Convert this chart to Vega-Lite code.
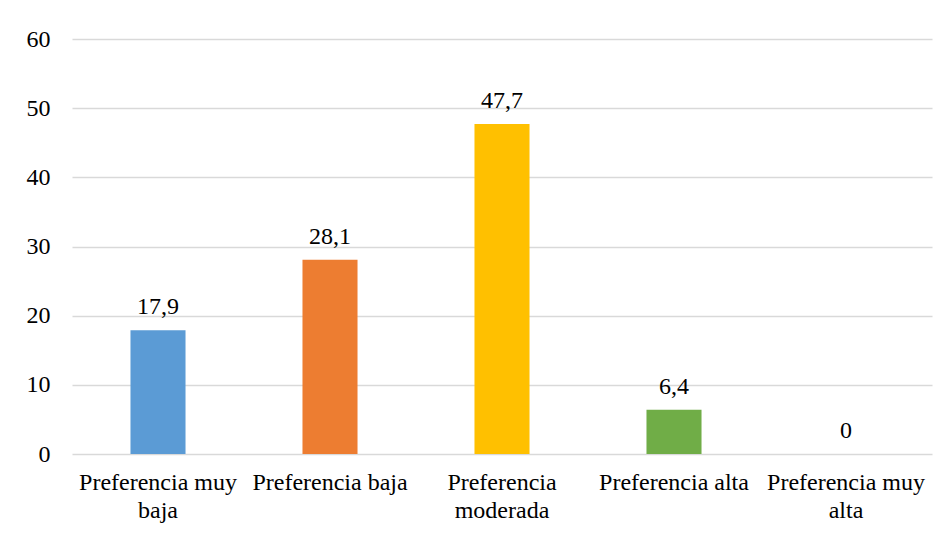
{
  "$schema": "https://vega.github.io/schema/vega-lite/v6.json",
  "width": 860,
  "height": 415,
  "autosize": {"type": "none"},
  "padding": {"left": 72, "top": 39, "right": 15, "bottom": 81},
  "background": "white",
  "config": {
    "locale": {"number": {"decimal": ",", "thousands": ".", "grouping": [3], "currency": ["", " €"]}},
    "view": {"stroke": null},
    "font": "Times New Roman, Liberation Serif, serif"
  },
  "data": {
    "values": [
      {"categoria": "Preferencia muy|baja", "valor": 17.9},
      {"categoria": "Preferencia baja", "valor": 28.1},
      {"categoria": "Preferencia|moderada", "valor": 47.7},
      {"categoria": "Preferencia alta", "valor": 6.4},
      {"categoria": "Preferencia muy|alta", "valor": 0}
    ]
  },
  "encoding": {
    "x": {
      "field": "categoria",
      "type": "nominal",
      "sort": null,
      "scale": {"paddingInner": 0.68, "paddingOuter": 0.34},
      "axis": {
        "title": null,
        "labelAngle": 0,
        "labelExpr": "split(datum.label, '|')",
        "labelFont": "Times New Roman, Liberation Serif, serif",
        "labelFontSize": 24,
        "labelColor": "#000000",
        "labelLineHeight": 28,
        "labelPadding": 35,
        "labelBaseline": "alphabetic",
        "ticks": false,
        "domain": false,
        "labelLimit": 0
      }
    },
    "y": {
      "field": "valor",
      "type": "quantitative",
      "scale": {"domain": [0, 60]},
      "axis": {
        "title": null,
        "values": [0, 10, 20, 30, 40, 50, 60],
        "labelFont": "Times New Roman, Liberation Serif, serif",
        "labelFontSize": 24,
        "labelColor": "#000000",
        "labelPadding": 22,
        "ticks": false,
        "domain": false,
        "gridColor": "#D9D9D9",
        "gridWidth": 1.3
      }
    }
  },
  "layer": [
    {
      "mark": {"type": "bar"},
      "encoding": {
        "color": {
          "field": "categoria",
          "type": "nominal",
          "sort": null,
          "scale": {"range": ["#5B9BD5", "#ED7D31", "#FFC000", "#70AD47", "#A5A5A5"]},
          "legend": null
        }
      }
    },
    {
      "mark": {"type": "text", "baseline": "alphabetic", "dy": -16, "fontSize": 24, "font": "Times New Roman, Liberation Serif, serif", "color": "#000000"},
      "encoding": {
        "text": {"field": "valor", "type": "quantitative", "format": ".1~f"}
      }
    }
  ]
}
